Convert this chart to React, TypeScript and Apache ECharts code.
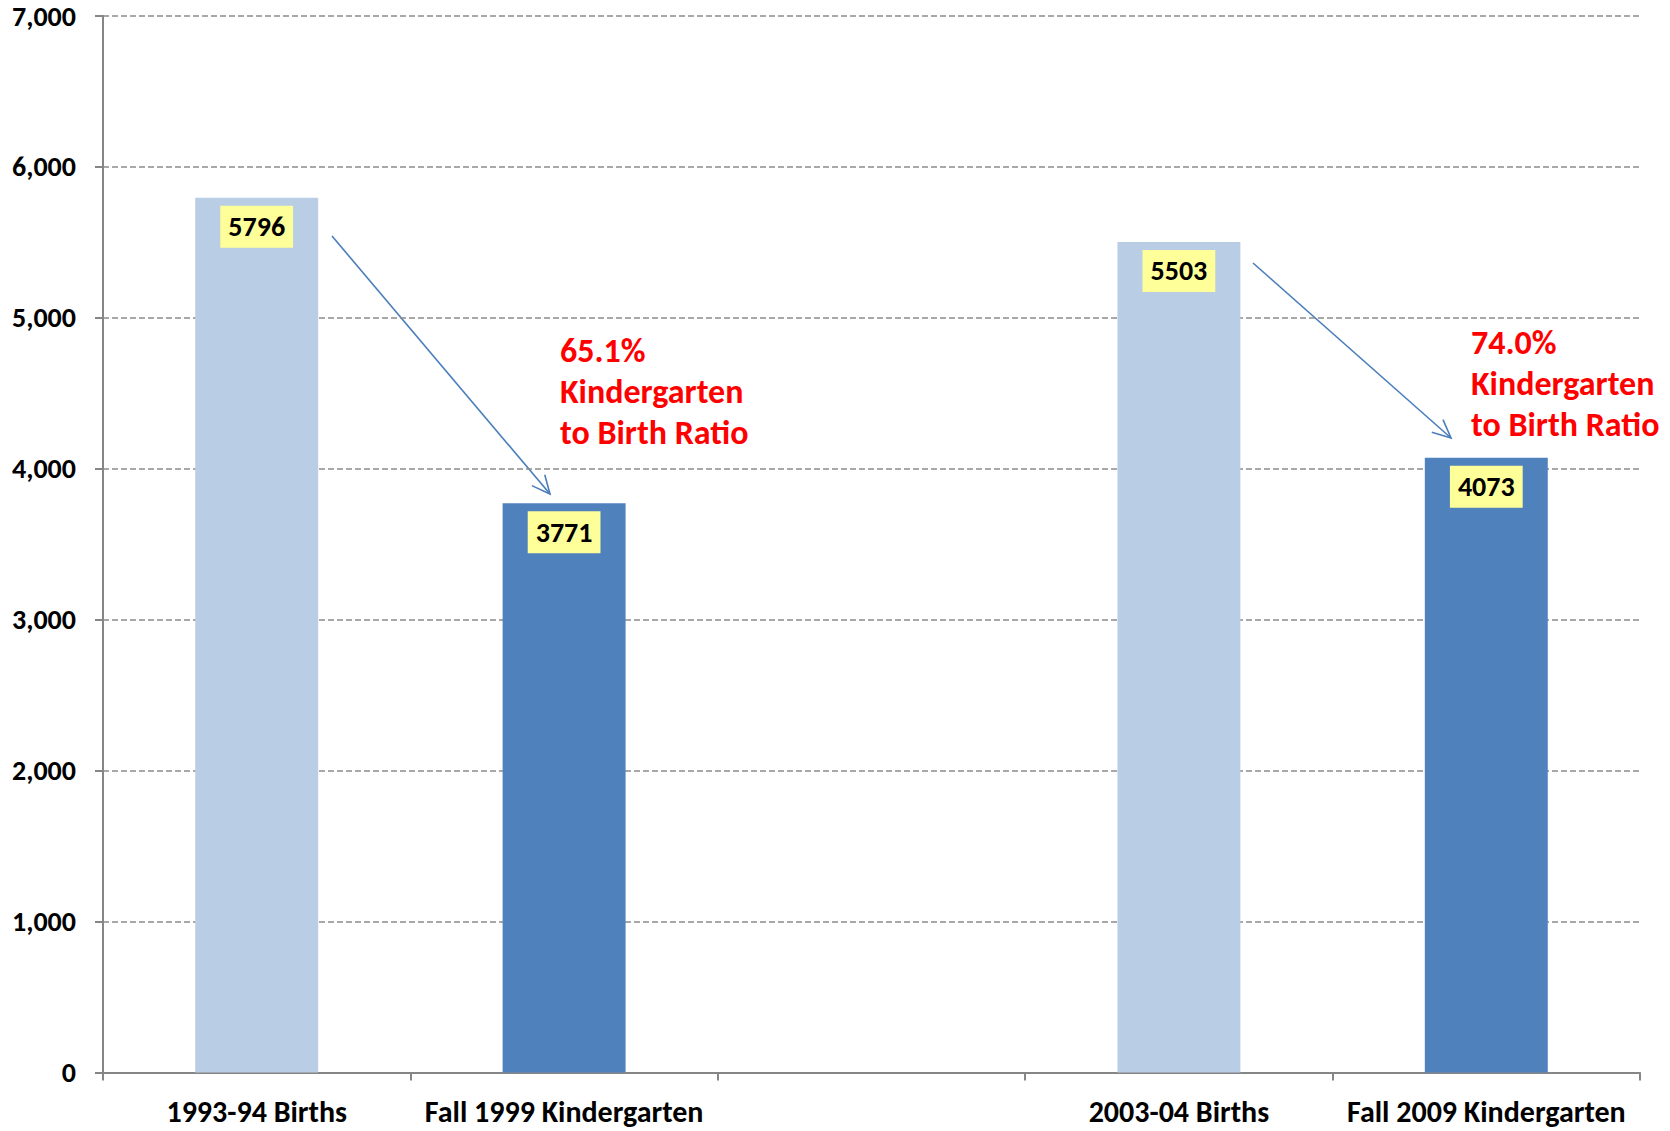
import React, { useEffect, useRef } from "react";
import * as echarts from "echarts";

const categories = ["1993-94 Births", "Fall 1999 Kindergarten", "", "2003-04 Births", "Fall 2009 Kindergarten"];
const values: (number | null)[] = [5796, 3771, null, 5503, 4073];
const barColors = ["#B9CDE5", "#4F81BD", "#4F81BD", "#B9CDE5", "#4F81BD"];
const yTicks = [0, 1000, 2000, 3000, 4000, 5000, 6000, 7000];
const ratioNotes = ["65.1%\nKindergarten\nto Birth Ratio", "74.0%\nKindergarten\nto Birth Ratio"];

const FONT = "Carlito, Lato, 'Noto Sans', sans-serif";

function arrow(x1: number, y1: number, x2: number, y2: number) {
  const ang = Math.atan2(y2 - y1, x2 - x1);
  const len = 20;
  const spread = (25 * Math.PI) / 180;
  const a1 = ang + Math.PI - spread;
  const a2 = ang + Math.PI + spread;
  const style = { stroke: "#4A7EBB", lineWidth: 1.6, fill: "none" };
  return [
    { type: "line", shape: { x1, y1, x2, y2 }, style, silent: true },
    {
      type: "polyline",
      shape: {
        points: [
          [x2 + len * Math.cos(a1), y2 + len * Math.sin(a1)],
          [x2, y2],
          [x2 + len * Math.cos(a2), y2 + len * Math.sin(a2)],
        ],
      },
      style,
      silent: true,
    },
  ];
}

export default function App() {
  const ref = useRef<HTMLDivElement>(null);
  useEffect(() => {
    document.body.style.margin = "0";
    const chart = echarts.init(ref.current!, null, { renderer: "svg" });
    chart.setOption({
      animation: false,
      backgroundColor: "#ffffff",
      grid: { left: 103, right: 30, top: 16, bottom: 58.5, containLabel: false },
      xAxis: {
        type: "category",
        data: categories,
        boundaryGap: true,
        axisLine: { show: true, lineStyle: { color: "#868686", width: 2 } },
        axisTick: { show: true, length: 8, lineStyle: { color: "#868686", width: 2 } },
        axisLabel: {
          interval: 0,
          margin: 24,
          color: "#000",
          fontFamily: FONT,
          fontWeight: "bold",
          fontSize: 30,
        },
      },
      yAxis: {
        type: "value",
        min: yTicks[0],
        max: yTicks[yTicks.length - 1],
        interval: 1000,
        axisLine: { show: true, lineStyle: { color: "#868686", width: 2 } },
        axisTick: { show: true, length: 8, lineStyle: { color: "#868686", width: 2 } },
        splitLine: { show: true, lineStyle: { color: "#8C8C8C", width: 1.5, type: [6, 3] } },
        axisLabel: {
          margin: 27,
          color: "#000",
          fontFamily: FONT,
          fontWeight: "bold",
          fontSize: 28,
          formatter: (v: number) => v.toLocaleString("en-US"),
        },
      },
      series: [
        {
          type: "bar",
          barWidth: "40%",
          data: values.map((v, i) => ({ value: v, itemStyle: { color: barColors[i] } })),
          label: {
            show: true,
            position: "insideTop",
            distance: 8,
            color: "#000",
            fontFamily: FONT,
            fontWeight: "bold",
            fontSize: 28,
            lineHeight: 28,
            backgroundColor: "#FFFF99",
            padding: [7, 8, 7, 8],
          },
        },
      ],
      graphic: [
        ...arrow(332, 236, 550, 494),
        ...arrow(1253, 263, 1451, 438),
        {
          type: "text",
          left: 560,
          top: 330,
          style: {
            text: ratioNotes[0],
            fill: "#FF0000",
            font: `bold 34px ${FONT}`,
            lineHeight: 41,
          },
        },
        {
          type: "text",
          left: 1471,
          top: 322,
          style: {
            text: ratioNotes[1],
            fill: "#FF0000",
            font: `bold 34px ${FONT}`,
            lineHeight: 41,
          },
        },
      ],
    });
    return () => chart.dispose();
  }, []);
  return <div ref={ref} style={{ position: "fixed", left: 0, top: 0, width: 1670, height: 1131 }} />;
}
